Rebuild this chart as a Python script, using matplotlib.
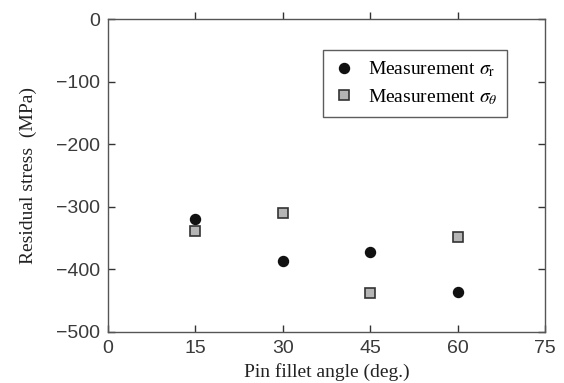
import matplotlib
matplotlib.use("Agg")
import matplotlib.pyplot as plt

angles = [15, 30, 45, 60]
sigma_r = [-320, -387, -373, -436]
sigma_theta = [-339, -310, -437, -348]
xticks = [0, 15, 30, 45, 60, 75]
yticks = [0, -100, -200, -300, -400, -500]

plt.rcParams['mathtext.fontset'] = 'stix'

fig = plt.figure(figsize=(5.64, 3.83), dpi=100)
ax = fig.add_axes([108/564, 1-332/383, 437/564, 313/383])

ax.plot(angles, sigma_r, linestyle='none', marker='o', markersize=7.2,
        color='#111111', markeredgecolor='#111111', label=r'Measurement $\sigma_{\mathrm{r}}$')
ax.plot(angles, sigma_theta, linestyle='none', marker='s', markersize=7.0,
        markerfacecolor='#b5b5b5', markeredgecolor='#333333', markeredgewidth=1.2,
        label=r'Measurement $\sigma_{\theta}$')

ax.set_xlim(0, 75)
ax.set_ylim(-500, 0)
ax.set_xticks(xticks)
ax.set_yticks(yticks)
ax.set_yticklabels([str(v).replace('-', '\u2212') for v in yticks])

for s in ax.spines.values():
    s.set_color('#555555')
    s.set_linewidth(1.0)

ax.tick_params(axis='both', which='both', direction='in', length=5, width=1, color='#333333',
               labelsize=14, labelcolor='#3a3a3a', right=True, top=False)
ax.tick_params(axis='x', pad=6)
ax.tick_params(axis='y', pad=6)
for lab in ax.get_xticklabels() + ax.get_yticklabels():
    lab.set_fontfamily('Liberation Sans')

sec = ax.secondary_xaxis('top')
sec.set_xticks(xticks[1:-1])
sec.tick_params(direction='out', length=5, width=1, color='#333333', labeltop=False)
sec.spines['top'].set_visible(False)

ax.set_xlabel('Pin fillet angle (deg.)', family='Liberation Serif', fontsize=14, color='#222222', labelpad=4)
ax.set_ylabel('Residual stress  (MPa)', family='Liberation Serif', fontsize=14, color='#222222', labelpad=13)

leg = ax.legend(loc='upper left', bbox_to_anchor=((323-108)/437, (332-50)/313), borderaxespad=0,
                prop={'family': 'Liberation Serif', 'size': 14}, frameon=True, fancybox=False,
                handletextpad=0.6, handlelength=1.2, borderpad=0.5, labelspacing=0.4)
leg.get_frame().set_edgecolor('#333333')
leg.get_frame().set_linewidth(1.0)

fig.savefig('out.png', dpi=100)
